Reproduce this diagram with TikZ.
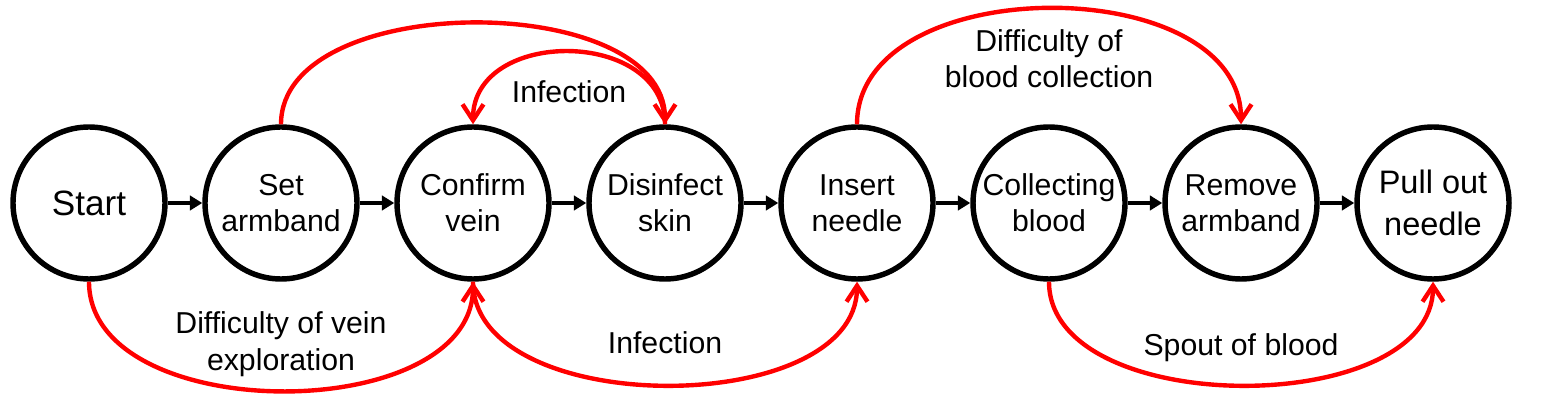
\documentclass[tikz,border=0pt]{standalone}
\usepackage{fontspec}
\setmainfont{Liberation Sans}
\usetikzlibrary{shapes.geometric, arrows.meta, positioning}
\tikzstyle{state} = [circle,
minimum size=3.04cm,
inner sep=0pt,
text centered,
align=center,
draw=black,
line width=3.1pt,
font=\fontsize{17.2}{20.7}\selectfont]
\tikzstyle{arrow} = [line width=2.5pt,-{Triangle[length=0.25cm,width=0.29cm]}]
\tikzstyle{risk} = [red,line width=2.5pt,-{Straight Barb[length=0.32cm,width=0.42cm]}]
\tikzstyle{risklabel} = [text=black,align=center,font=\fontsize{17.2}{20.7}\selectfont]

\begin{document}
\begin{tikzpicture}[node distance=3.84cm]
\useasboundingbox (0,0) rectangle (30.84,8);

\node (start) [state, font=\fontsize{20}{24}\selectfont] at (1.78,3.94) {Start};
\node (set) [state, right of=start] {Set\\armband};
\node (confirm) [state, right of=set] {Confirm\\vein};
\node (disinfect) [state, right of=confirm] {Disinfect\\skin};
\node (insert) [state, right of=disinfect] {Insert\\needle};
\node (collect) [state, right of=insert] {Collecting\\blood};
\node (remove) [state, right of=collect] {Remove\\armband};
\node (pull) [state, right of=remove, font=\fontsize{18.5}{23.7}\selectfont] {Pull out\\needle};

\draw [arrow] (start) -- (set);
\draw [arrow] (set) -- (confirm);
\draw [arrow] (confirm) -- (disinfect);
\draw [arrow] (disinfect) -- (insert);
\draw [arrow] (insert) -- (collect);
\draw [arrow] (collect) -- (remove);
\draw [arrow] (remove) -- (pull);

\draw [risk] (start) to[out=-90,in=-90,looseness=0.97]
  node (veinlabel) [risklabel, midway, yshift=0.93cm] {Difficulty of vein\\exploration} (confirm);
\draw [risk] (confirm) to[out=-90,in=-90,looseness=0.92]
  node (infectlabel) [risklabel, midway, yshift=0.84cm] {Infection} (insert);
\draw [risk] (collect) to[out=-90,in=-90,looseness=0.92]
  node (spoutlabel) [risklabel, midway, yshift=0.74cm] {Spout of blood} (pull);
\draw [risk] (set) to[out=90,in=90,looseness=0.9] (disinfect);
\draw [risk] (disinfect) to[out=90,in=90,looseness=1.29]
  node (skinlabel) [risklabel, midway, yshift=-0.8cm] {Infection} (confirm);
\draw [risk] (insert) to[out=90,in=90,looseness=1.03]
  node (bloodlabel) [risklabel, midway, yshift=-1.0cm] {Difficulty of\\blood collection} (remove);

\end{tikzpicture}
\end{document}
